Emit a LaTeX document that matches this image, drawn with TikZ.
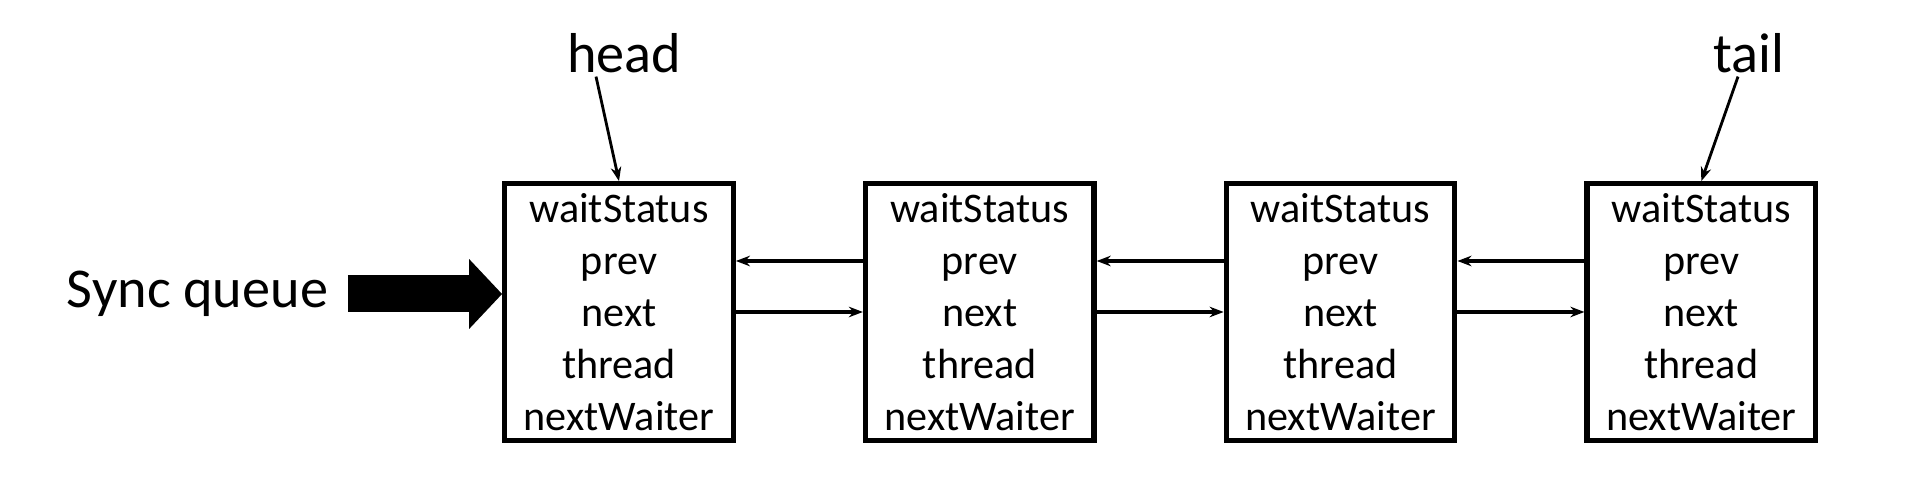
\documentclass[tikz,border=0pt]{standalone}
\usepackage{fontspec}
\setmainfont{Carlito}
\usetikzlibrary{positioning,arrows.meta}
\begin{document}
\begin{tikzpicture} [font=\fontsize{32}{38}\selectfont, line cap = butt, line join = miter, >={Stealth[length=8pt,width=6pt]},
	nodebox/.style={draw, line width=3pt, minimum width=4.57cm, minimum height=5.13cm, inner sep=0pt, align=center, font=\fontsize{24}{29.5}\selectfont},
	link/.style={->, line width=2.4pt}]
				\useasboundingbox (0,0) rectangle (38.4,9.76);
				\node[nodebox] (n1) at (12.38,3.52) {waitStatus\\prev\\next\\thread\\nextWaiter};
				\node[nodebox, right = 2.54cm of n1] (n2) {waitStatus\\prev\\next\\thread\\nextWaiter};
				\node[nodebox, right = 2.54cm of n2] (n3) {waitStatus\\prev\\next\\thread\\nextWaiter};
				\node[nodebox, right = 2.54cm of n3] (n4) {waitStatus\\prev\\next\\thread\\nextWaiter};
				\foreach \a/\b in {n1/n2, n2/n3, n3/n4} {
					\draw[link] ([yshift=1.02cm]\b.west) -- ([yshift=1.02cm]\a.east);
					\draw[link] (\a.east) -- (\b.west);
				}
				\node[inner sep=2pt] (head) at (12.48,8.7) {head};
				\node[inner sep=2pt] (tail) at (34.98,8.7) {tail};
				\draw[->, line width=1.6pt] ([xshift=-0.56cm]head.south) -- (n1.north);
				\draw[->, line width=1.6pt] ([xshift=-0.22cm]tail.south) -- (n4.north);
				\node (sq) at (3.95,3.88) {Sync queue};
				\draw[line width=0.74cm, -{Triangle[length=0.66cm,width=1.36cm]}] ([xshift=0.27cm]sq.east) -- (sq.east -| n1.west);
			\end{tikzpicture}
\end{document}
